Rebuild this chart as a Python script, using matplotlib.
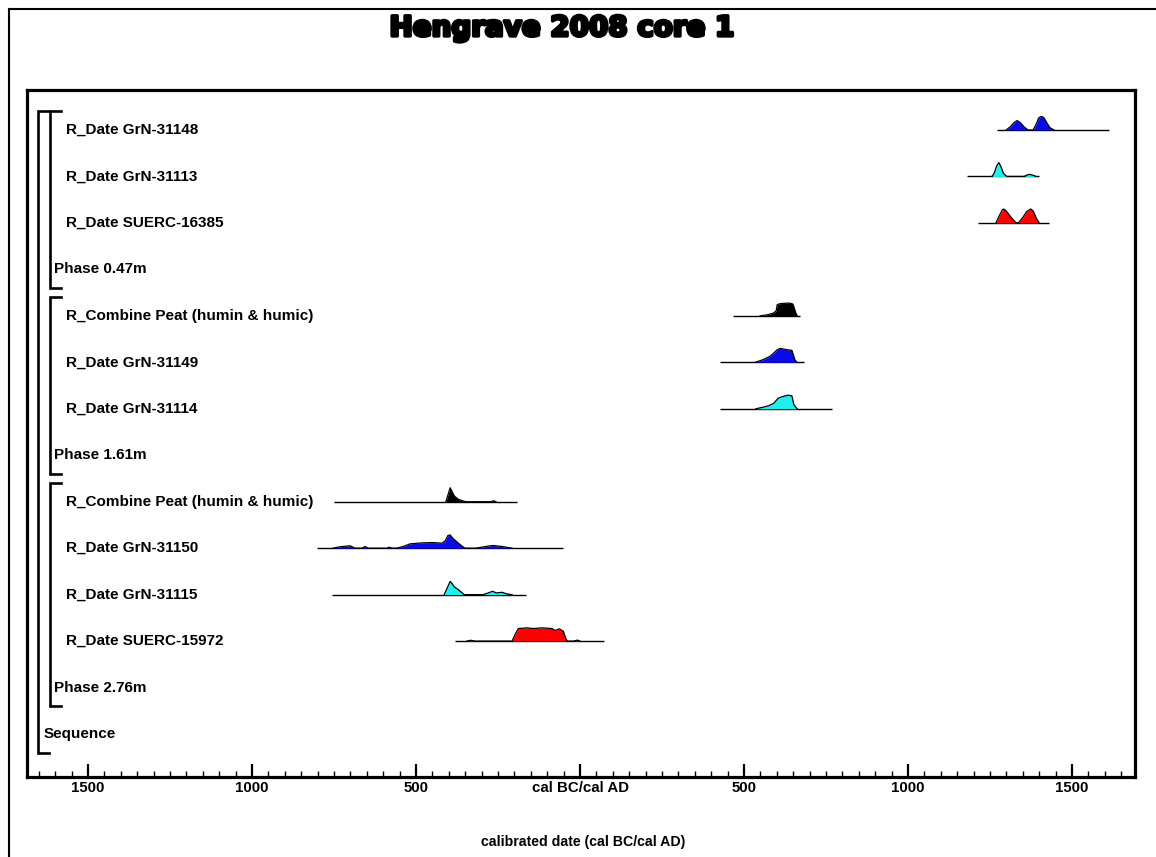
import matplotlib
matplotlib.use("Agg")
import matplotlib.pyplot as plt
import matplotlib.transforms as mtransforms
from matplotlib.lines import Line2D
import matplotlib.patheffects as pe

plt.rcParams['font.family'] = ['Liberation Sans', 'DejaVu Sans']

# ---- model structure (top to bottom) ----
row_labels = [
    "R_Date GrN-31148", "R_Date GrN-31113", "R_Date SUERC-16385", "Phase 0.47m",
    "R_Combine Peat (humin & humic)", "R_Date GrN-31149", "R_Date GrN-31114", "Phase 1.61m",
    "R_Combine Peat (humin & humic)", "R_Date GrN-31150", "R_Date GrN-31115",
    "R_Date SUERC-15972", "Phase 2.76m", "Sequence",
]
row_kind = ["date", "date", "date", "phase",
            "date", "date", "date", "phase",
            "date", "date", "date", "date", "phase", "sequence"]
row_colors = ["#0a0ae6", "#22eeee", "#ff0000", None,
              "#000000", "#0a0ae6", "#22eeee", None,
              "#000000", "#0a0ae6", "#22eeee", "#ff0000", None, None]

# baseline ranges of each distribution (cal years, BC negative)
ranges = [
    (1272, 1614), (1180, 1400), (1213, 1429), None,
    (466, 671), (427, 683), (427, 768), None,
    (-750, -192), (-802, -52), (-756, -165), (-381, 73), None, None,
]

# posterior probability profiles: (year, relative probability)
grn31148_years = [1299, 1310, 1322, 1332, 1342, 1354, 1366, 1381, 1390, 1398, 1405, 1413, 1422, 1432, 1445]
grn31148_prob = [0, 0.2, 0.5, 0.68, 0.54, 0.22, 0, 0, 0.38, 0.85, 0.97, 0.92, 0.57, 0.18, 0]

grn31113_years = [1256, 1263, 1270, 1277, 1283, 1291, 1301, 1354, 1364, 1372, 1382, 1390]
grn31113_prob = [0, 0.25, 0.75, 1.0, 0.72, 0.22, 0, 0, 0.12, 0.15, 0.08, 0]

suerc16385_years = [1268, 1278, 1287, 1292, 1300, 1314, 1329, 1337, 1350, 1362, 1374, 1382, 1391, 1400]
suerc16385_prob = [0, 0.5, 0.92, 1.0, 0.85, 0.4, 0.02, 0.02, 0.4, 0.82, 1.0, 0.85, 0.35, 0]

peat_upper_years = [549, 570, 589, 598, 601, 610, 625, 637, 649, 658, 662]
peat_upper_prob = [0, 0.07, 0.19, 0.36, 0.8, 0.88, 0.9, 0.92, 0.85, 0.2, 0]

grn31149_years = [534, 558, 579, 591, 601, 610, 631, 646, 655, 661]
grn31149_prob = [0, 0.19, 0.43, 0.67, 0.9, 1.0, 0.9, 0.86, 0.19, 0]

grn31114_years = [536, 559, 574, 591, 604, 618, 635, 646, 652, 662]
grn31114_prob = [0, 0.12, 0.21, 0.4, 0.76, 0.88, 0.98, 0.93, 0.29, 0]

peat_lower_years = [-409, -396, -390, -383, -371, -356, -348, -271, -264, -256]
peat_lower_prob = [0, 1.0, 0.72, 0.4, 0.17, 0.05, 0, 0, 0.07, 0]

grn31150_years = [-753, -732, -701, -686, -665, -655, -646, -588, -582, -573,
                  -559, -539, -518, -482, -448, -421, -411, -403, -396, -388,
                  -371, -358, -351, -317, -300, -274, -264, -238, -207]
grn31150_prob = [0, 0.1, 0.17, 0, 0, 0.12, 0, 0, 0.07, 0,
                 0, 0.12, 0.31, 0.38, 0.4, 0.36, 0.52, 0.9, 0.95, 0.71,
                 0.36, 0.12, 0, 0, 0.07, 0.17, 0.19, 0.12, 0]

grn31115_years = [-414, -396, -391, -383, -371, -359, -353, -295, -280, -267, -254, -238, -223, -207]
grn31115_prob = [0, 0.95, 0.83, 0.55, 0.36, 0.12, 0, 0, 0.12, 0.24, 0.12, 0.17, 0.05, 0]

suerc15972_years = [-345, -333, -320, -207, -198, -188, -162, -142, -117, -86, -76,
                    -63, -51, -44, -39, -20, -8, 0]
suerc15972_prob = [0, 0.06, 0, 0, 0.48, 0.9, 0.95, 0.9, 0.95, 0.9, 0.76,
                   0.88, 0.71, 0.24, 0, 0, 0.07, 0]

profiles = [
    (grn31148_years, grn31148_prob), (grn31113_years, grn31113_prob),
    (suerc16385_years, suerc16385_prob), None,
    (peat_upper_years, peat_upper_prob), (grn31149_years, grn31149_prob),
    (grn31114_years, grn31114_prob), None,
    (peat_lower_years, peat_lower_prob), (grn31150_years, grn31150_prob),
    (grn31115_years, grn31115_prob), (suerc15972_years, suerc15972_prob), None, None,
]

# bracket groups: (first row, own row, nesting level)
groups = [(0, 3, 1), (4, 7, 1), (8, 12, 1), (0, 13, 0)]

major_ticks = [-1500, -1000, -500, 0, 500, 1000, 1500]
major_labels = ["1500", "1000", "500", "cal BC/cal AD", "500", "1000", "1500"]

title = "Hengrave 2008 core 1"
xlabel = "calibrated date (cal BC/cal AD)"

# ---- figure ----
W, H = 1156, 857
fig = plt.figure(figsize=(W / 100, H / 100), dpi=100)

# outer frame of the page
fig.add_artist(Line2D([9 / W, 1.0], [1 - 9 / H, 1 - 9 / H], color="black", lw=1.5,
                      transform=fig.transFigure))
fig.add_artist(Line2D([9 / W, 9 / W], [0.0, 1 - 9 / H], color="black", lw=1.5,
                      transform=fig.transFigure))

ax = fig.add_axes([27 / W, 80 / H, 1108 / W, 687 / H])
ax.set_xlim(-1686, 1692)
ax.set_ylim(13.925, -0.861)

for sp in ax.spines.values():
    sp.set_linewidth(2.3)

PEAK = 0.30  # height of a unit probability in row units

for i, prof in enumerate(profiles):
    if prof is None:
        continue
    lo, hi = ranges[i]
    ax.plot([lo, hi], [i, i], color="black", lw=1.0, solid_capstyle="butt", zorder=2)
    yrs, pr = prof
    top = [i - PEAK * p for p in pr]
    ax.fill_between(yrs, [i] * len(yrs), top, color=row_colors[i], lw=0, zorder=3)
    ax.plot(yrs, top, color="black", lw=0.9, zorder=4)

# labels
label_x = {"date": 66, "phase": 54, "sequence": 44}
tr_lab = mtransforms.blended_transform_factory(ax.transAxes, ax.transData)
for i, (lab, kind) in enumerate(zip(row_labels, row_kind)):
    xf = (label_x[kind] - 27) / 1108
    ax.text(xf, i, lab, transform=tr_lab, ha="left", va="center",
            fontsize=11, fontweight="bold", color="black")

# structure brackets
bracket_x = {1: 50, 0: 38}
for first, own, lvl in groups:
    xv = (bracket_x[lvl] - 27) / 1108
    xe = (bracket_x[lvl] + 11 - 27) / 1108
    y0, y1 = first - 0.4, own + 0.4
    ax.plot([xe, xv, xv, xe], [y0, y0, y1, y1], transform=tr_lab, color="black",
            lw=1.9, solid_joinstyle="miter", clip_on=False)

# axis ticks
ax.set_xticks(major_ticks)
ax.set_xticklabels(major_labels, fontsize=10.8, fontweight="bold")
ax.set_xticks(list(range(-1650, 1700, 50)), minor=True)
ax.tick_params(axis="x", which="major", direction="in", length=9.5, width=1.6, pad=3)
ax.tick_params(axis="x", which="minor", direction="in", length=4.3, width=1.0)
ax.tick_params(axis="y", left=False, labelleft=False)
ax.set_yticks([])

fig.text(562 / W, 1 - 36 / H, title, ha="center", va="baseline", fontsize=20,
         fontweight="heavy", family=["DejaVu Sans"],
         path_effects=[pe.withStroke(linewidth=2.4, foreground="black")])
fig.text(583 / W, 1 - 842 / H, xlabel, ha="center", va="center",
         fontsize=10.2, fontweight="bold")

fig.savefig("out.png", dpi=100)
